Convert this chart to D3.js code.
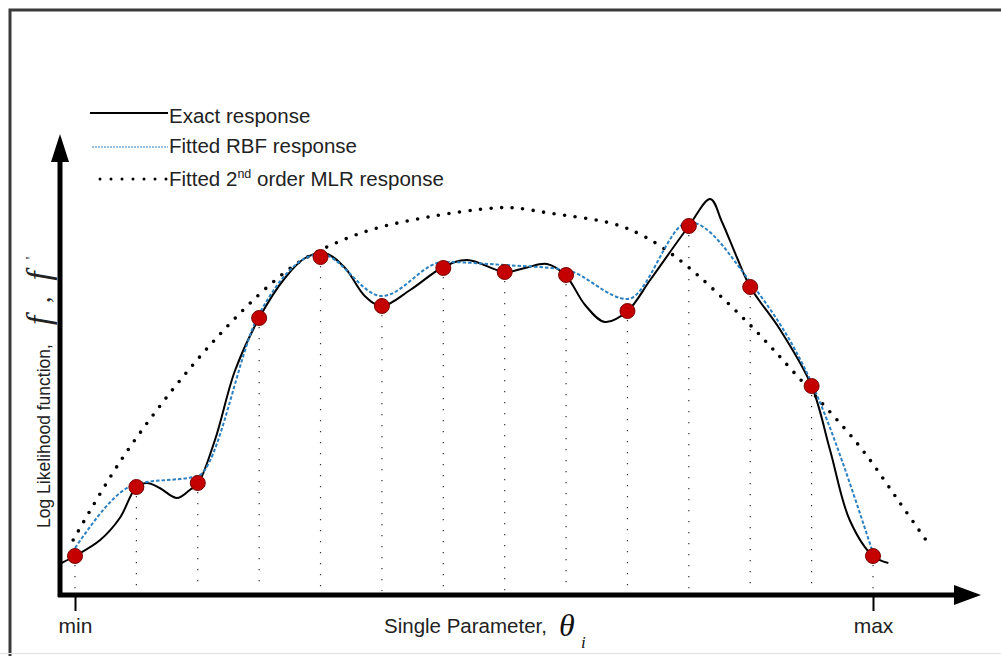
<!DOCTYPE html>
<html>
<head>
<meta charset="utf-8">
<title>RBF vs MLR response</title>
<script src="https://d3js.org/d3.v7.min.js"></script>
<style>
body { margin: 0; background: #fff; }
svg { display: block; font-family: "Liberation Sans", Arial, sans-serif; }
</style>
</head>
<body>
<div id="chart"></div>
<script>
// sample points (parameter index 0 = min, 13 = max)
const sampleX = d3.range(14);
const sampleY = [9.5, 26.75, 27.75, 69, 84.25, 72, 81.5, 80.5, 79.75, 70.75, 92, 76.75, 52, 9.5];

// fitted RBF response at the sample positions
const rbfY = [11.5, 27.5, 29.5, 70, 85, 74.5, 83, 82.25, 81, 73.75, 93, 78, 52.75, 10.25];

// exact response
const exactX = [-0.22, 0, 0.41, 0.73, 0.99, 1.17, 1.38, 1.66, 1.87, 2, 2.28, 2.61, 3, 3.42, 3.75, 4.07, 4.4, 4.72, 5, 5.46,
  6, 6.39, 7, 7.33, 7.69, 8, 8.31, 8.63, 9, 9.37, 10, 10.35, 10.54, 10.78, 11, 11.49, 12, 12.3, 12.62, 13, 13.25];
const exactY = [7.75, 9.5, 13.5, 19, 26.5, 27.75, 26.5, 24, 26, 27.5, 38.5, 56, 69, 79, 84, 85.25, 81.5, 74.5, 72, 76,
  81.75, 83.5, 80.5, 81.5, 82.5, 79.5, 72.25, 68, 70.75, 78.5, 92, 98.75, 93, 84.25, 76.75, 66, 52, 36, 18.5, 9.5, 7.75];

// fitted 2nd order MLR response
const mlrX = [-0.03, 0.72, 1.56, 2.38, 3.19, 3.76, 4.71, 5.75, 6.83, 7.17, 7.72, 8.78, 9.29, 9.89, 10.95, 11.78,
  12.79, 13.44, 13.93];
const mlrY = [13.5, 32.75, 50.5, 65.25, 77.5, 84, 90.5, 94.25, 96.5, 96.5, 95.25, 92.5, 89.25, 83, 68, 54.25,
  36.75, 22.75, 12];

const tickVals = [0, 13];
const tickNames = ["min", "max"];

const legendItems = ["Exact response", "Fitted RBF response", "Fitted 2nd order MLR response"];

const width = 1001, height = 656;

const svg = d3.select("#chart").append("svg")
    .attr("width", width)
    .attr("height", height);

// outer frame
svg.append("rect")
    .attr("x", 10).attr("y", 10)
    .attr("width", 1000).attr("height", 700)
    .attr("fill", "none")
    .attr("stroke", "#3a3a3a")
    .attr("stroke-width", 3);
svg.append("line")
    .attr("x1", 0).attr("x2", width)
    .attr("y1", 653.5).attr("y2", 653.5)
    .attr("stroke", "#e2e2e2");

const x = d3.scaleLinear().domain([0, 13]).range([75, 873]);
const y = d3.scaleLinear().domain([0, 100]).range([594, 194]);

const blue = "#2a80c0";
const red = "#c40000";

// vertical dotted guides
svg.append("g")
  .selectAll("line")
  .data(sampleX)
  .join("line")
    .attr("x1", d => x(d)).attr("x2", d => x(d))
    .attr("y1", (d, i) => y(sampleY[i]) + 9)
    .attr("y2", y(0) - 3)
    .attr("stroke", "#333")
    .attr("stroke-width", 1.2)
    .attr("stroke-dasharray", "1.2,9.8");

// MLR dotted curve
const mlrLine = d3.line()
    .x((d, i) => x(mlrX[i]))
    .y(d => y(d))
    .curve(d3.curveCatmullRom.alpha(0.5));

svg.append("path")
    .attr("d", mlrLine(mlrY))
    .attr("fill", "none")
    .attr("stroke", "#000")
    .attr("stroke-width", 3.6)
    .attr("stroke-linecap", "round")
    .attr("stroke-dasharray", "0,10.6");

// exact response
const exactLine = d3.line()
    .x((d, i) => x(exactX[i]))
    .y(d => y(d))
    .curve(d3.curveCatmullRom.alpha(0.5));

svg.append("path")
    .attr("d", exactLine(exactY))
    .attr("fill", "none")
    .attr("stroke", "#000")
    .attr("stroke-width", 2);

// RBF response
const rbfLine = d3.line()
    .x((d, i) => x(sampleX[i]))
    .y(d => y(d))
    .curve(d3.curveMonotoneX);

svg.append("path")
    .attr("d", rbfLine(rbfY))
    .attr("fill", "none")
    .attr("stroke", blue)
    .attr("stroke-width", 2)
    .attr("stroke-dasharray", "3.5,2");

// sample points
svg.append("g")
  .selectAll("circle")
  .data(sampleY)
  .join("circle")
    .attr("cx", (d, i) => x(sampleX[i]))
    .attr("cy", d => y(d))
    .attr("r", 7.5)
    .attr("fill", red)
    .attr("stroke", "#7a0000")
    .attr("stroke-width", 1);

// axes with arrows
const ax = svg.append("g");
ax.append("line")
    .attr("x1", 58).attr("x2", 956)
    .attr("y1", y(0) + 1).attr("y2", y(0) + 1)
    .attr("stroke", "#000").attr("stroke-width", 5);
ax.append("path")
    .attr("d", `M954,${y(0) - 9}L981,${y(0) + 1}L954,${y(0) + 11}Z`)
    .attr("fill", "#000");
ax.append("line")
    .attr("x1", 60).attr("x2", 60)
    .attr("y1", y(0) + 3).attr("y2", 158)
    .attr("stroke", "#000").attr("stroke-width", 5);
ax.append("path")
    .attr("d", "M51,162L60,134L69,162Z")
    .attr("fill", "#000");

const xAxis = d3.axisBottom(x)
    .tickValues(tickVals)
    .tickFormat((d, i) => tickNames[i])
    .tickSize(16)
    .tickSizeOuter(0)
    .tickPadding(7);

const gx = svg.append("g")
    .attr("transform", `translate(0,${y(0) + 1})`)
    .call(xAxis);
gx.select(".domain").remove();
gx.selectAll(".tick line").attr("stroke", "#000").attr("stroke-width", 2);
gx.selectAll(".tick text")
    .attr("font-family", "Liberation Sans, Arial, sans-serif")
    .attr("font-size", 21)
    .attr("fill", "#222");

// x label
svg.append("text")
    .attr("x", 384).attr("y", 633)
    .attr("font-size", 20.5)
    .attr("fill", "#222")
    .text("Single Parameter,");
svg.append("text")
    .attr("x", 559).attr("y", 636)
    .attr("font-family", "Liberation Serif, serif")
    .attr("font-style", "italic")
    .attr("font-size", 32)
    .attr("fill", "#111")
    .text("θ");
svg.append("text")
    .attr("x", 581).attr("y", 648)
    .attr("font-family", "Liberation Serif, serif")
    .attr("font-style", "italic")
    .attr("font-size", 17)
    .attr("fill", "#111")
    .text("i");

// y label
const serif = "Liberation Serif, serif";
const yl = svg.append("text")
    .attr("transform", "translate(50,528) rotate(-90)")
    .attr("font-size", 17.5)
    .attr("fill", "#222");
yl.append("tspan").text("Log Likelihood function,");
yl.append("tspan")
    .attr("font-family", serif)
    .attr("font-style", "italic")
    .attr("font-size", 33)
    .attr("dx", 19)
    .text("f");
yl.append("tspan")
    .attr("font-family", serif)
    .attr("font-size", 26)
    .attr("dx", 13)
    .text(",");
yl.append("tspan")
    .attr("font-family", serif)
    .attr("font-style", "italic")
    .attr("font-size", 33)
    .attr("dx", 16)
    .text("f");
yl.append("tspan")
    .attr("font-family", serif)
    .attr("font-size", 14)
    .attr("dy", -14)
    .attr("dx", 12)
    .text("'");

// legend
const legY = [113, 147, 179];
const legBase = [123, 153, 186];
const lg = svg.append("g");
lg.append("line")
    .attr("x1", 90).attr("x2", 168)
    .attr("y1", legY[0]).attr("y2", legY[0])
    .attr("stroke", "#000").attr("stroke-width", 2);
lg.append("line")
    .attr("x1", 92).attr("x2", 168)
    .attr("y1", legY[1]).attr("y2", legY[1])
    .attr("stroke", blue).attr("stroke-width", 1.2)
    .attr("stroke-dasharray", "2,1");
lg.append("line")
    .attr("x1", 100).attr("x2", 167)
    .attr("y1", legY[2]).attr("y2", legY[2])
    .attr("stroke", "#000").attr("stroke-width", 3)
    .attr("stroke-linecap", "round")
    .attr("stroke-dasharray", "0,11");

legendItems.forEach((t, i) => {
  const tx = lg.append("text")
      .attr("x", 169).attr("y", legBase[i])
      .attr("font-size", 20.5)
      .attr("fill", "#222");
  if (i === 2) {
    tx.append("tspan").text("Fitted 2");
    tx.append("tspan").attr("font-size", 12.5).attr("dy", -8).text("nd");
    tx.append("tspan").attr("dy", 8).text(" order MLR response");
  } else {
    tx.text(t);
  }
});
</script>
</body>
</html>
